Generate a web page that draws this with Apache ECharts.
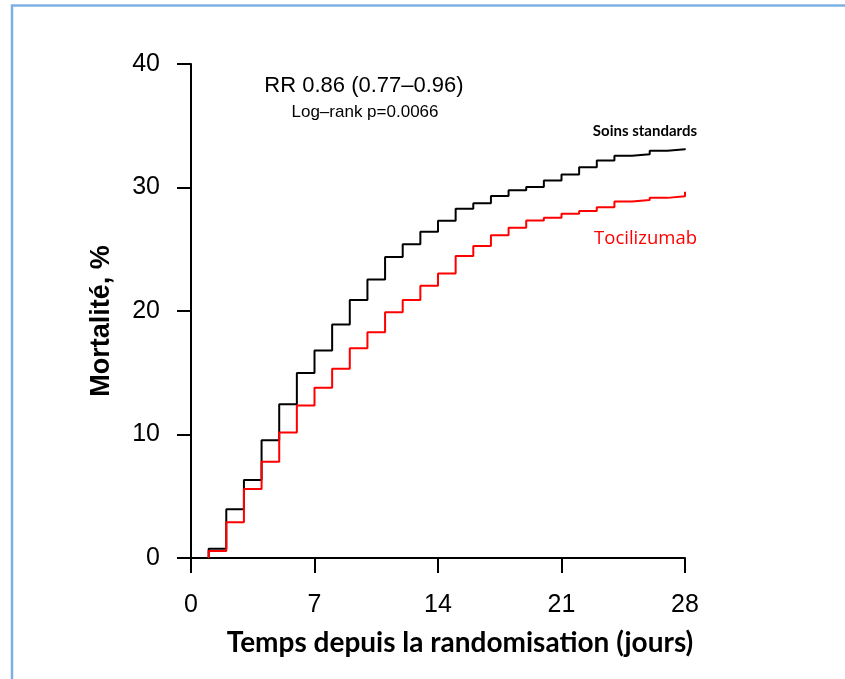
<!DOCTYPE html>
<html>
<head>
<meta charset="utf-8">
<script src="https://cdn.jsdelivr.net/npm/echarts@6/dist/echarts.min.js"></script>
<style>
html,body{margin:0;padding:0;background:#fff;}
#chart{width:845px;height:679px;}
</style>
</head>
<body>
<div id="chart"></div>
<script>
// Days at which each step level starts (first entry = start of curve at 0)
const stepDays = [1, 1, 2, 3, 4, 5, 6, 7, 8, 9, 10, 11, 12, 13, 14, 15, 16, 17, 18, 19, 20, 21, 22, 23, 24, 25, 26, 27, 28];
// Cumulative mortality (%), standard care
const soinsStandards = [0, 0.75, 3.95, 6.31, 9.54, 12.44, 14.97, 16.8, 18.9, 20.9, 22.55, 24.38, 25.4, 26.42, 27.31, 28.27, 28.73, 29.32, 29.77, 30.05, 30.56, 31.05, 31.64, 32.18, 32.58, 32.7, 32.98, 33.09, 33.15];
// Cumulative mortality (%), tocilizumab
const tocilizumab = [0, 0.56, 2.9, 5.59, 7.79, 10.16, 12.34, 13.79, 15.32, 16.98, 18.27, 19.89, 20.89, 22.04, 23.03, 24.46, 25.27, 26.13, 26.74, 27.33, 27.55, 27.87, 28.09, 28.41, 28.87, 28.98, 29.16, 29.3, 29.65];
const xTicks = [0, 7, 14, 21, 28];
const yTicks = [0, 10, 20, 30, 40];
const seriesNames = ['Soins standards', 'Tocilizumab'];
const annotations = ['RR 0.86 (0.77\u20130.96)', 'Log\u2013rank p=0.0066'];
const xTitle = 'Temps depuis la randomisation (jours)';
const yTitle = 'Mortalit\u00e9, %';

const chart = echarts.init(document.getElementById('chart'), null, {renderer: 'canvas'});
const pair = (xs, ys) => xs.map((x, i) => [x, ys[i]]);
const axisFont = '"Liberation Sans", Arial, Helvetica, sans-serif';

chart.setOption({
  animation: false,
  backgroundColor: '#ffffff',
  grid: {left: 191, top: 64, right: 160, bottom: 121, containLabel: false},
  xAxis: {
    type: 'value', min: xTicks[0], max: xTicks[xTicks.length - 1], interval: 7,
    name: xTitle, nameLocation: 'middle', nameGap: 71,
    nameTextStyle: {fontFamily: 'Lato, "Open Sans", sans-serif', fontWeight: 'bold', fontSize: 28, color: '#000', padding: [0, 0, 0, 44]},
    axisLine: {show: true, onZero: false, lineStyle: {color: '#000', width: 2}},
    axisTick: {show: true, inside: false, length: 15, lineStyle: {color: '#000', width: 2}},
    axisLabel: {show: true, margin: 35, fontFamily: axisFont, fontSize: 25, color: '#000'},
    splitLine: {show: false}
  },
  yAxis: {
    type: 'value', min: yTicks[0], max: yTicks[yTicks.length - 1], interval: 10,
    name: yTitle, nameLocation: 'middle', nameGap: 76, nameRotate: 90,
    nameTextStyle: {fontFamily: axisFont, fontWeight: 'bold', fontSize: 27, color: '#000', padding: [0, 20, 0, 0]},
    axisLine: {show: true, onZero: false, lineStyle: {color: '#000', width: 2}},
    axisTick: {show: true, inside: false, length: 14, lineStyle: {color: '#000', width: 2}},
    axisLabel: {show: true, margin: 31, fontFamily: axisFont, fontSize: 25, color: '#000'},
    splitLine: {show: false}
  },
  series: [
    {
      name: seriesNames[0], type: 'line', step: 'end', showSymbol: false, silent: true,
      data: pair(stepDays, soinsStandards),
      lineStyle: {color: '#000000', width: 2}, itemStyle: {color: '#000000'}
    },
    {
      name: seriesNames[1], type: 'line', step: 'end', showSymbol: false, silent: true,
      data: pair(stepDays, tocilizumab),
      lineStyle: {color: '#ff0000', width: 2}, itemStyle: {color: '#ff0000'}
    }
  ],
  graphic: [
    {type: 'line', shape: {x1: 12, y1: 5, x2: 12, y2: 679}, style: {stroke: '#7cb0e2', lineWidth: 2.5}},
    {type: 'line', shape: {x1: 11, y1: 5.5, x2: 845, y2: 5.5}, style: {stroke: '#7cb0e2', lineWidth: 2.5}},
    {type: 'text', style: {text: annotations[0], x: 364, y: 86, align: 'center', verticalAlign: 'middle', font: '22px ' + axisFont, fill: '#000'}},
    {type: 'text', style: {text: annotations[1], x: 365, y: 112, align: 'center', verticalAlign: 'middle', font: '17px ' + axisFont, fill: '#000'}},
    {type: 'text', style: {text: seriesNames[0], x: 697, y: 131, align: 'right', verticalAlign: 'middle', font: 'bold 15px Lato, "Open Sans", sans-serif', fill: '#000'}},
    {type: 'text', style: {text: seriesNames[1], x: 697, y: 239, align: 'right', verticalAlign: 'middle', font: '18.5px "Open Sans", Lato, sans-serif', fill: '#ff0000'}}
  ]
});
</script>
</body>
</html>
